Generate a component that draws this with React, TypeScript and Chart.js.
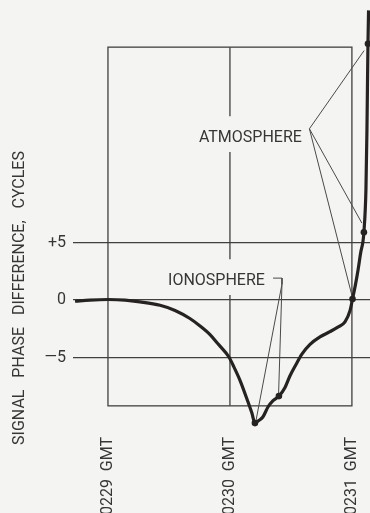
import React, { useEffect, useRef } from "react";
import { Chart, registerables } from "chart.js";

Chart.register(...registerables);

// ---- data (time in seconds after 02:29 GMT, phase difference in cycles) ----
const X_MIN = -17.2;
const X_MAX = 128.9;
const Y_MIN = -11.3;
const Y_MAX = 26.1;

const X_TICKS = [0, 60, 120];
const X_TICK_LABELS = ["0229  GMT", "0230  GMT", "0231  GMT"];
const Y_TICKS = [-5, 0, 5];
const Y_TICK_LABELS = ["\u20145", "0", "+5"];
const Y_TITLE = "SIGNAL   PHASE   DIFFERENCE,   CYCLES";

const BOX_T = [0, 120];
const BOX_V = [-9.2, 22.0];
const MID_T = 60;

const CURVE_T = [
  -16.2, -8.9, 0, 8.4, 15.7, 25.6, 33.0, 40.3, 45.3, 50.2, 54.1, 59.5, 61.5,
  64.9, 68.9, 70.8, 72.3, 74.0, 76.2, 78.7, 81.2, 84.1, 87.1, 89.5, 92.5, 95.4,
  99.4, 104.3, 109.2, 113.1, 116.6, 119.1, 120.3, 121.7, 123.0, 124.4, 125.4,
  125.9, 126.9, 127.4, 127.9, 128.2,
];
const CURVE_V = [
  -0.1, 0, 0.05, 0, -0.15, -0.45, -0.9, -1.6, -2.25, -3.0, -3.8, -4.95, -5.65,
  -6.96, -8.87, -9.83, -10.7, -10.5, -10.17, -9.3, -8.75, -8.35, -7.6, -6.6,
  -5.6, -4.7, -3.85, -3.2, -2.75, -2.35, -1.9, -0.9, 0.1, 1.3, 2.6, 4.2, 5.05,
  5.9, 9.6, 14.8, 22.3, 25.2,
];

const DOT_T = [127.9, 125.9, 120.3, 84.1, 72.3];
const DOT_V = [22.3, 5.9, 0.1, -8.35, -10.7];

const ATMO_LABEL = "ATMOSPHERE";
const ATMO_T = 95.4;
const ATMO_V = 13.74;
const ATMO_VERTEX_T = 99.1;
const ATMO_VERTEX_V = 14.9;
const ATMO_TARGET_T = [126.0, 124.9, 120.0];
const ATMO_TARGET_V = [21.7, 6.7, 0.4];

const IONO_LABEL = "IONOSPHERE";
const IONO_T = 77.2;
const IONO_V = 1.3;
const IONO_BRACKET_T = [81.2, 85.6, 85.6];
const IONO_BRACKET_V = [1.91, 1.91, 1.39];
const IONO_TARGET_T = [83.9, 72.8];
const IONO_TARGET_V = [-8.35, -10.5];

// ---- styles ----
const BG = "#f4f4f2";
const INK = "#262222";
const LINE = "#404040";
const LEADER = "#4a4a4a";
const TEXT = "#363636";
const FONT = "Roboto";
const GAP_ABOVE = 2.25;
const GAP_BELOW = 0.85;

const pts = (ts: number[], vs: number[]) => ts.map((t, i) => ({ x: t, y: vs[i] }));

const zeroPad = (s: any) => {
  s.paddingLeft = 0;
  s.paddingRight = 0;
  s.paddingTop = 0;
  s.paddingBottom = 0;
  if (s._margins) {
    s._margins.left = 0;
    s._margins.right = 0;
    s._margins.top = 0;
    s._margins.bottom = 0;
  }
};

const framePlugin = {
  id: "frame",
  beforeDraw(chart: any) {
    const { ctx, width, height } = chart;
    ctx.save();
    ctx.fillStyle = BG;
    ctx.fillRect(0, 0, width, height);
    ctx.restore();
  },
  beforeDatasetsDraw(chart: any) {
    const xs = chart.scales.x;
    const ys = chart.scales.y;
    const ctx = chart.ctx;
    const l = xs.getPixelForValue(BOX_T[0]);
    const r = xs.getPixelForValue(BOX_T[1]);
    const m = xs.getPixelForValue(MID_T);
    const t = ys.getPixelForValue(BOX_V[1]);
    const b = ys.getPixelForValue(BOX_V[0]);
    ctx.save();
    ctx.strokeStyle = LINE;
    ctx.lineWidth = 1.3;
    ctx.strokeRect(l, t, r - l, b - t);
    const gaps = [ATMO_V, IONO_V]
      .map((v) => [ys.getPixelForValue(v + GAP_ABOVE), ys.getPixelForValue(v - GAP_BELOW)])
      .sort((a, c) => a[0] - c[0]);
    let cur = t;
    ctx.beginPath();
    for (const [g0, g1] of gaps) {
      ctx.moveTo(m, cur);
      ctx.lineTo(m, g0);
      cur = g1;
    }
    ctx.moveTo(m, cur);
    ctx.lineTo(m, b);
    ctx.stroke();
    ctx.restore();
  },
  afterDatasetsDraw(chart: any) {
    const xs = chart.scales.x;
    const ys = chart.scales.y;
    const ctx = chart.ctx;
    ctx.save();
    ctx.fillStyle = TEXT;
    ctx.font = `16px ${FONT}`;
    ctx.textAlign = "right";
    ctx.textBaseline = "alphabetic";
    ctx.fillText(ATMO_LABEL, xs.getPixelForValue(ATMO_T), ys.getPixelForValue(ATMO_V));
    ctx.fillText(IONO_LABEL, xs.getPixelForValue(IONO_T), ys.getPixelForValue(IONO_V));
    // y axis title
    ctx.translate(20, 298);
    ctx.rotate(-Math.PI / 2);
    ctx.textAlign = "center";
    ctx.textBaseline = "middle";
    ctx.fillText(Y_TITLE, 0, 0);
    ctx.restore();
  },
};

export default function App() {
  const ref = useRef<HTMLCanvasElement>(null);

  useEffect(() => {
    const canvas = ref.current;
    if (!canvas) return;

    const leader = (data: { x: number; y: number }[]) => ({
      data,
      borderColor: LEADER,
      borderWidth: 1,
      pointRadius: 0,
      tension: 0,
      fill: false,
    });

    const atmoVertex = { x: ATMO_VERTEX_T, y: ATMO_VERTEX_V };
    const bracket = pts(IONO_BRACKET_T, IONO_BRACKET_V);
    const bracketEnd = bracket[bracket.length - 1];

    const datasets: any[] = [
      {
        data: pts(DOT_T, DOT_V),
        showLine: false,
        pointRadius: 3.3,
        pointBackgroundColor: INK,
        pointBorderWidth: 0,
      },
      {
        data: pts(CURVE_T, CURVE_V),
        borderColor: INK,
        borderWidth: 3.2,
        pointRadius: 0,
        cubicInterpolationMode: "monotone",
        fill: false,
      },
      ...pts(ATMO_TARGET_T, ATMO_TARGET_V).map((p) => leader([atmoVertex, p])),
      leader(bracket),
      ...pts(IONO_TARGET_T, IONO_TARGET_V).map((p) => leader([bracketEnd, p])),
    ];

    const chart = new Chart(canvas, {
      type: "line",
      data: { datasets },
      plugins: [framePlugin],
      options: {
        responsive: false,
        maintainAspectRatio: false,
        animation: false,
        events: [],
        layout: { padding: 0, autoPadding: false },
        plugins: {
          legend: { display: false },
          tooltip: { enabled: false },
        },
        scales: {
          x: {
            type: "linear",
            position: "bottom",
            min: X_MIN,
            max: X_MAX,
            grid: { display: false, drawTicks: false },
            border: { display: false },
            afterBuildTicks: (s: any) => {
              s.ticks = X_TICKS.map((v) => ({ value: v }));
            },
            afterFit: (s: any) => {
              s.height = 83;
              zeroPad(s);
            },
            ticks: {
              autoSkip: false,
              minRotation: 90,
              maxRotation: 90,
              padding: 7,
              color: TEXT,
              font: { family: FONT, size: 16 },
              callback: (v: any) => {
                const i = X_TICKS.indexOf(Number(v));
                return i >= 0 ? X_TICK_LABELS[i] : "";
              },
            },
          },
          y: {
            type: "linear",
            min: Y_MIN,
            max: Y_MAX,
            grid: { color: LINE, lineWidth: 1.3, drawTicks: false },
            border: { display: false },
            afterBuildTicks: (s: any) => {
              s.ticks = Y_TICKS.map((v) => ({ value: v }));
            },
            afterFit: (s: any) => {
              s.width = 73;
              zeroPad(s);
            },
            ticks: {
              padding: 7,
              color: TEXT,
              font: { family: FONT, size: 16 },
              callback: (v: any) => {
                const i = Y_TICKS.indexOf(Number(v));
                return i >= 0 ? Y_TICK_LABELS[i] : "";
              },
            },
          },
        },
      } as any,
    });

    return () => chart.destroy();
  }, []);

  return (
    <div
      style={{
        position: "fixed",
        left: 0,
        top: 0,
        width: 370,
        height: 513,
        overflow: "hidden",
        background: BG,
      }}
    >
      <canvas ref={ref} width={370} height={513} style={{ display: "block" }} />
    </div>
  );
}
